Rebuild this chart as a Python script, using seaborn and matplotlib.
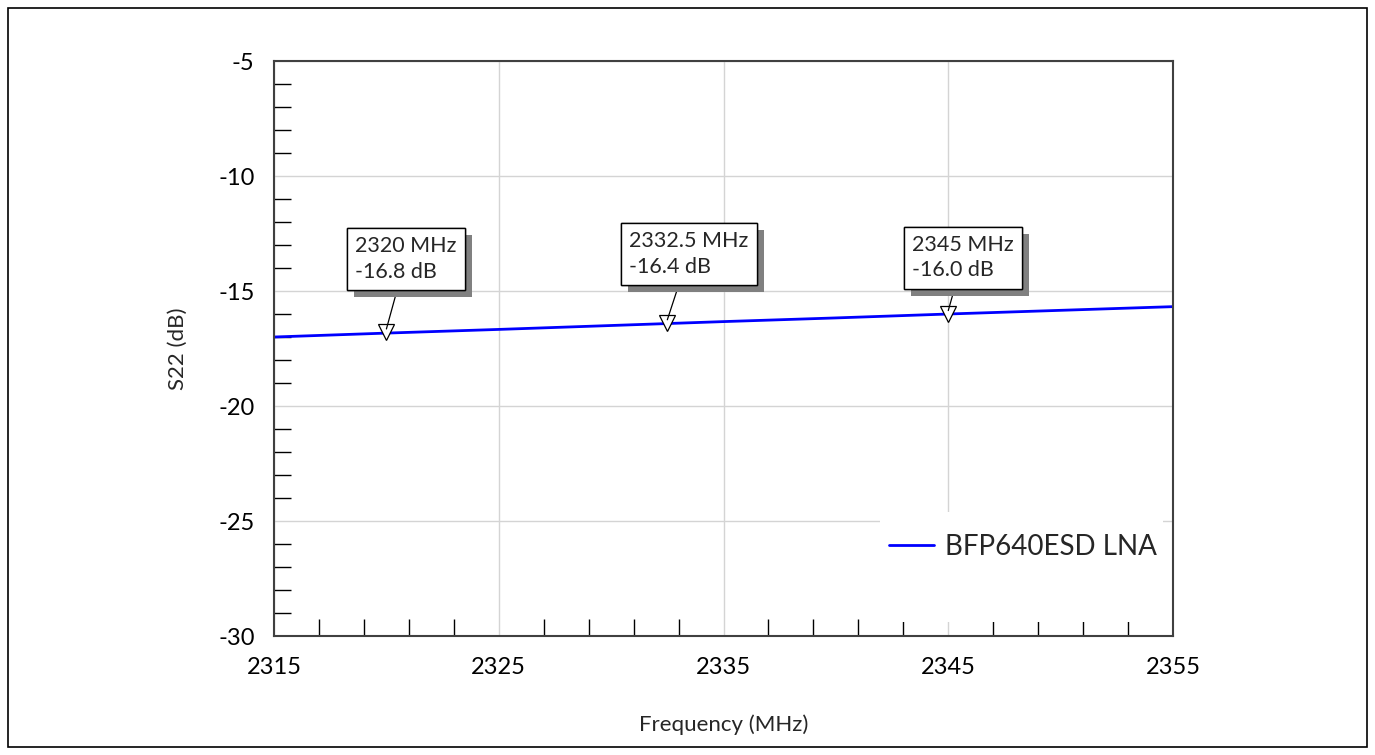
import numpy as np
import pandas as pd
import seaborn as sns
import matplotlib.pyplot as plt
import matplotlib.patheffects as pe
from matplotlib.patches import Rectangle
from matplotlib.ticker import MultipleLocator

# data
freq = [2315, 2320, 2325, 2330, 2335, 2340, 2345, 2350, 2355]
s22 = [-17.0, -16.83, -16.67, -16.5, -16.33, -16.17, -16.0, -15.84, -15.68]

mk_freq = [2320, 2332.5, 2345]
mk_s22 = [-16.8, -16.4, -16.0]
mk_text = ['2320 MHz\n-16.8 dB', '2332.5 MHz\n-16.4 dB', '2345 MHz\n-16.0 dB']
box_pos = [(2318.6, -13.6), (2330.8, -13.4), (2343.4, -13.55)]

df = pd.DataFrame({'freq': freq, 's22': s22})

sns.set_theme(style='white')
plt.rcParams['font.family'] = ['Lato', 'DejaVu Sans']
plt.rcParams['axes.unicode_minus'] = False

fig = plt.figure(figsize=(13.75, 7.55), dpi=100)
ax = fig.add_axes([0.1993, 0.1576, 0.6538, 0.7616])

sns.lineplot(data=df, x='freq', y='s22', color='#0000ff', linewidth=2,
             label='BFP640ESD LNA', ax=ax)

ax.plot(mk_freq, mk_s22, linestyle='none', marker='v', markersize=12,
        markerfacecolor='white', markeredgecolor='black', markeredgewidth=0.9, zorder=5)

for fx, fy, txt, (bx, by) in zip(mk_freq, mk_s22, mk_text, box_pos):
    ann = ax.annotate(txt, xy=(fx, fy + 0.15), xytext=(bx, by),
                      ha='left', va='center', fontsize=15.5, linespacing=1.35, zorder=6,
                      bbox=dict(boxstyle='square,pad=0.38', fc='white', ec='black', lw=1),
                      arrowprops=dict(arrowstyle='-', color='black', lw=0.9,
                                      shrinkA=0, shrinkB=0))
    ann.get_bbox_patch().set_path_effects([
        pe.withSimplePatchShadow(offset=(5, -5), shadow_rgbFace='#808080', alpha=1.0),
        pe.Normal()])

ax.set_xlim(2315, 2355)
ax.set_ylim(-30, -5)
ax.xaxis.set_major_locator(MultipleLocator(10, offset=5))
ax.xaxis.set_minor_locator(MultipleLocator(2, offset=1))
ax.yaxis.set_major_locator(MultipleLocator(5))
ax.yaxis.set_minor_locator(MultipleLocator(1))
ax.grid(True, which='major', color='#d4d4d4', linewidth=1)
ax.tick_params(which='major', length=0, labelsize=17, colors='black')
ax.tick_params(axis='x', which='major', pad=15)
ax.tick_params(axis='y', which='major', pad=14)
ax.tick_params(which='minor', direction='in', length=12, width=1, color='black',
               bottom=True, left=True)

for s in ax.spines.values():
    s.set_color('#404040')
    s.set_linewidth(1.5)

ax.set_xlabel('Frequency (MHz)', fontsize=16, labelpad=26)
ax.set_ylabel('S22 (dB)', fontsize=16, labelpad=22)

# white legend area that hides the grid, as in the reference
ax.add_patch(Rectangle((0.674, 0.024), 0.315, 0.192, transform=ax.transAxes,
                       facecolor='white', edgecolor='none', zorder=1))
leg = ax.legend(loc='center right', bbox_to_anchor=(0.982, 0.155), fontsize=20,
                frameon=False, handlelength=1.6, handletextpad=0.4,
                borderpad=0, borderaxespad=0)

fig.patches.append(Rectangle((0.006, 0.01), 0.988, 0.98, transform=fig.transFigure,
                             fill=False, edgecolor='black', linewidth=1.2))

plt.savefig('out.png', dpi=100)
